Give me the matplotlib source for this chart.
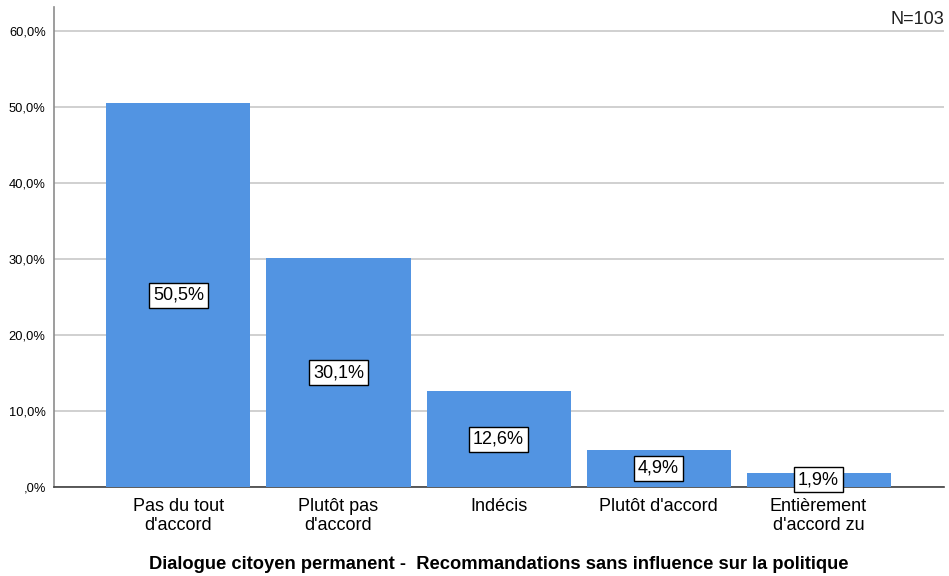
import matplotlib
matplotlib.use("Agg")
import matplotlib.pyplot as plt
import numpy as np

categories = ["Pas du tout\nd'accord", "Plutôt pas\nd'accord", "Indécis", "Plutôt d'accord", "Entièrement\nd'accord zu"]
values = [50.5, 30.1, 12.6, 4.9, 1.9]
yticks = [0, 10, 20, 30, 40, 50, 60]
ytick_labels = [",0%", "10,0%", "20,0%", "30,0%", "40,0%", "50,0%", "60,0%"]
value_labels = ["50,5%", "30,1%", "12,6%", "4,9%", "1,9%"]
title = "Dialogue citoyen permanent -  Recommandations sans influence sur la politique"

plt.rcParams['font.family'] = ['Liberation Sans', 'DejaVu Sans']

fig = plt.figure(figsize=(9.49, 5.76), dpi=100)
ax = fig.add_axes([54/949, (576-487)/576, (944-54)/949, (487-7)/576])

x = np.arange(len(categories))
ax.bar(x, values, width=0.9, color="#5294E2", zorder=3)
for xi, v, lab in zip(x, values, value_labels):
    ax.text(xi, v/2, lab, ha="center", va="center", fontsize=13, zorder=4,
            bbox=dict(boxstyle="square,pad=0.22", facecolor="white", edgecolor="black", linewidth=1))

ax.set_xlim(-0.778, 4.784)
ax.set_ylim(0, 63.2)
ax.set_yticks(yticks)
ax.set_yticklabels(ytick_labels, fontsize=9.3)
ax.set_xticks(x)
ax.set_xticklabels(categories, fontsize=13, linespacing=1.15)
ax.tick_params(axis="both", length=0, pad=6)
ax.tick_params(axis="x", pad=8)
ax.yaxis.grid(True, color="#C8C8C8", linewidth=1.2, zorder=0)
ax.set_axisbelow(True)
for s in ["top", "right"]:
    ax.spines[s].set_visible(False)
ax.spines["left"].set_color("#8C8C8C")
ax.spines["left"].set_linewidth(1.2)
ax.spines["bottom"].set_color("#404040")
ax.spines["bottom"].set_linewidth(1.2)

ax.set_xlabel(title, fontsize=13.2, fontweight="bold", labelpad=16)
ax.text(1.0, 0.975, "N=103", transform=ax.transAxes, ha="right", va="center", fontsize=13, color="#202020")

fig.savefig("out.png", dpi=100)
